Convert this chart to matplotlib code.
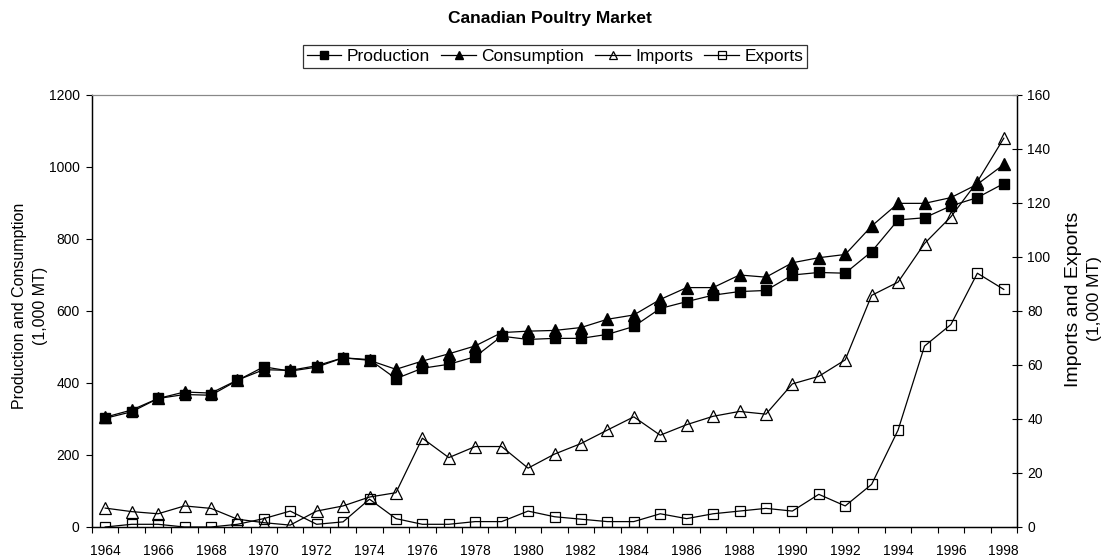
import numpy as np
import matplotlib.pyplot as plt
from matplotlib.ticker import MultipleLocator, FixedLocator

plt.rcParams['font.family'] = ['Liberation Sans', 'DejaVu Sans']

# Datos (1,000 MT)
anios = list(range(1964, 1999))
produccion = [302, 320, 357, 368, 366, 407, 445, 433, 444, 470, 465, 412,
              441, 452, 473, 530, 521, 524, 524, 535, 557, 607, 626, 644,
              654, 657, 700, 707, 705, 765, 853, 859, 892, 915, 954]
consumo = [305, 325, 357, 375, 372, 408, 437, 435, 448, 470, 463, 438,
           461, 481, 503, 540, 544, 546, 554, 577, 589, 632, 665, 665,
           700, 694, 734, 748, 757, 836, 899, 899, 915, 952, 1007]
importaciones = [7, 5.7, 4.9, 7.8, 6.9, 2.9, 1.6, 0.7, 5.9, 7.8, 11.1, 12.7,
                 32.9, 25.7, 29.8, 29.8, 21.8, 27, 30.9, 35.9, 40.8, 34,
                 37.9, 41, 42.8, 41.8, 53, 55.8, 61.9, 85.8, 90.7, 105,
                 114.9, 127.9, 144]
exportaciones = [0, 1, 1, 0, 0, 1, 3.1, 5.9, 1, 1.9, 10.3, 3.1, 1, 1, 2, 2,
                 5.9, 3.8, 2.9, 2, 2, 4.9, 3.1, 4.9, 5.9, 6.9, 5.9, 12.1,
                 7.8, 15.8, 35.9, 67, 75, 94, 88]

W, H = 1109, 558
fig = plt.figure(figsize=(W / 100, H / 100), dpi=100)
ax = fig.add_axes([92 / W, 1 - 527 / H, (1017 - 92) / W, (527 - 95) / H])
ax2 = ax.twinx()

# Series del eje izquierdo
l1, = ax.plot(anios, produccion, color='black', lw=0.9, marker='s', ms=7.5,
              mfc='black', mec='black', label='Production')
l2, = ax.plot(anios, consumo, color='black', lw=0.9, marker='^', ms=8.5,
              mfc='black', mec='black', label='Consumption')
# Series del eje derecho
l3, = ax2.plot(anios, importaciones, color='black', lw=0.9, marker='^', ms=8.5,
               mfc='none', mec='black', mew=0.9, label='Imports')
l4, = ax2.plot(anios, exportaciones, color='black', lw=0.9, marker='s', ms=7.5,
               mfc='none', mec='black', mew=0.9, label='Exports')

ax.set_xlim(1963.5, 1998.5)
ax.set_ylim(0, 1200)
ax2.set_ylim(0, 160)
ax.yaxis.set_major_locator(MultipleLocator(200))
ax2.yaxis.set_major_locator(MultipleLocator(20))

ax.set_xticks(anios[::2])
ax.xaxis.set_minor_locator(FixedLocator(np.arange(1963.5, 1999, 1)))
ax.tick_params(axis='x', which='major', length=0, pad=12, labelsize=10)
ax.tick_params(axis='x', which='minor', length=4, width=0.8, direction='out')
ax.tick_params(axis='y', length=4, width=0.8, labelsize=10, pad=5)
ax2.tick_params(axis='y', length=7, width=0.8, labelsize=10, pad=4,
                direction='inout')

for a in (ax, ax2):
    a.spines['top'].set_color('#888888')
    a.spines['top'].set_linewidth(0.8)
    for s in ('left', 'right', 'bottom'):
        a.spines[s].set_linewidth(0.9)

# Etiquetas de los ejes
fig.text(30 / W, 1 - 306 / H, "Production and Consumption\n(1,000 MT)",
         rotation=90, ha='center', va='center', multialignment='center',
         fontsize=11.5, linespacing=1.45)
fig.text(1073 / W, 1 - 299 / H, "Imports and Exports", rotation=90,
         ha='center', va='center', fontsize=14)
fig.text(1095 / W, 1 - 299 / H, "(1,000 MT)", rotation=90,
         ha='center', va='center', fontsize=12.5)

fig.text(550 / W, 1 - 18 / H, "Canadian Poultry Market", ha='center',
         va='center', fontsize=12.5, fontweight='bold')

leg = fig.legend(handles=[l1, l2, l3, l4], loc='center', ncol=4,
                 bbox_to_anchor=(555 / W, 1 - 56.5 / H), fontsize=12.5,
                 frameon=True, fancybox=False, edgecolor='black',
                 handlelength=2.0, handletextpad=0.3, columnspacing=0.65,
                 borderpad=0.2, borderaxespad=0, markerscale=0.75)
leg.get_frame().set_linewidth(0.9)

fig.savefig("out.png", dpi=100)
